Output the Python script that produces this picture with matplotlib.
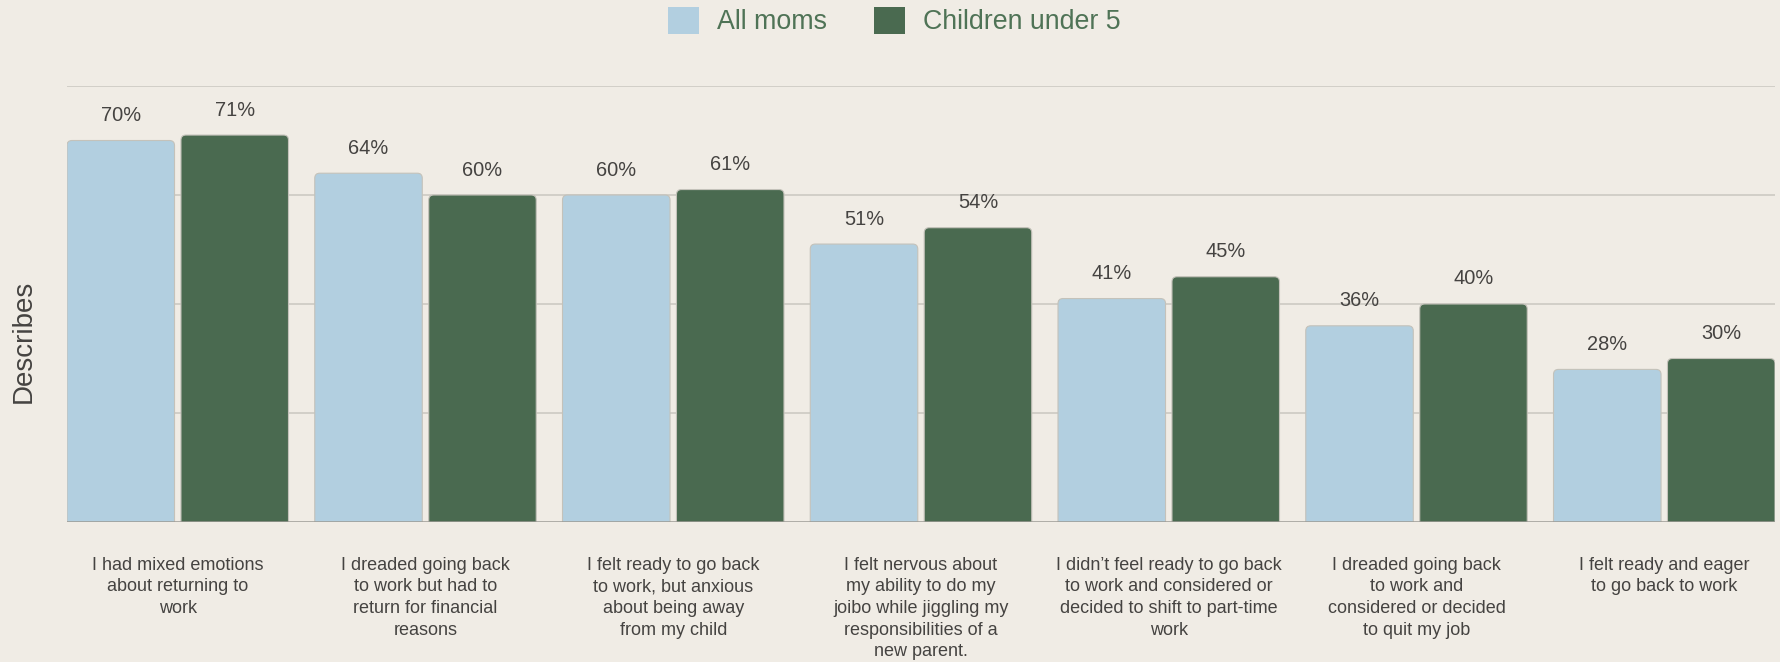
import numpy as np
import matplotlib
matplotlib.use("Agg")
import matplotlib.pyplot as plt
from matplotlib.patches import FancyBboxPatch, Patch

# data
categories = [
    "I had mixed emotions\nabout returning to\nwork",
    "I dreaded going back\nto work but had to\nreturn for financial\nreasons",
    "I felt ready to go back\nto work, but anxious\nabout being away\nfrom my child",
    "I felt nervous about\nmy ability to do my\njoibo while jiggling my\nresponsibilities of a\nnew parent.",
    "I didn\u2019t feel ready to go back\nto work and considered or\ndecided to shift to part-time\nwork",
    "I dreaded going back\nto work and\nconsidered or decided\nto quit my job",
    "I felt ready and eager\nto go back to work",
]
all_moms = [70, 64, 60, 51, 41, 36, 28]
under_5 = [71, 60, 61, 54, 45, 40, 30]
series_names = ["All moms", "Children under 5"]

BG = "#f0ece5"
LIGHT = "#b2cfe0"
DARK = "#4a6a50"
TEXT = "#454341"

plt.rcParams['font.family'] = ['Liberation Sans', 'DejaVu Sans']

fig = plt.figure(figsize=(17.81, 6.62), dpi=100, facecolor=BG)
ax = fig.add_axes([67 / 1781, 140 / 662, 1708 / 1781, 436 / 662])
ax.set_facecolor(BG)

x = np.arange(len(categories))
w = 0.434
off = 0.230
ax.set_xlim(-0.447, len(categories) - 1 + 0.447)
ax.set_ylim(0, 80)

bars_a = ax.bar(x - off, all_moms, w, color=LIGHT)
bars_b = ax.bar(x + off, under_5, w, color=DARK)

# swap plain bars for rounded-top ones
fig.canvas.draw()
px_x = ax.transData.transform((1, 0))[0] - ax.transData.transform((0, 0))[0]
px_y = ax.transData.transform((0, 1))[1] - ax.transData.transform((0, 0))[1]
r_px = 5
r = r_px / px_x
aspect = px_x / px_y
for bars, col in [(bars_a, LIGHT), (bars_b, DARK)]:
    for b in bars:
        b.set_visible(False)
        ext = 2 * r * aspect
        p = FancyBboxPatch((b.get_x(), -ext), b.get_width(), b.get_height() + ext,
                           boxstyle=f"round,pad=0,rounding_size={r}",
                           mutation_aspect=aspect, facecolor=col,
                           edgecolor="#c4c2ba", linewidth=0.8, zorder=2)
        ax.add_patch(p)
        ax.annotate(f"{b.get_height():.0f}%", (b.get_x() + b.get_width() / 2, b.get_height()),
                    xytext=(0, 18), textcoords="offset points", ha="center", va="center",
                    fontsize=14.4, color=TEXT)

ax.set_yticks([20, 40, 60, 80])
ax.set_yticklabels([])
ax.tick_params(axis="y", length=0)
ax.grid(axis="y", color="#cdcac3", linewidth=1.2, zorder=0)
ax.set_axisbelow(True)
ax.axhline(0, color="#9c9a94", linewidth=1.8, zorder=3)
for s in ax.spines.values():
    s.set_visible(False)

ax.set_xticks(x)
ax.set_xticklabels(categories, fontsize=13, color=TEXT, linespacing=1.36)
ax.tick_params(axis="x", length=0, pad=25)

fig.text(24 / 1781, 1 - 341 / 662, "Describes", rotation=90, ha="center", va="center",
         fontsize=20, color=TEXT)

handles = [Patch(facecolor=LIGHT, edgecolor="none"), Patch(facecolor=DARK, edgecolor="none")]
fig.legend(handles, series_names, loc="center", bbox_to_anchor=(0.502, 1 - 21 / 662),
           ncol=2, frameon=False, fontsize=19.3, labelcolor="#4f7356",
           handlelength=1.17, handleheight=1.17, handletextpad=0.66, columnspacing=1.75)

fig.savefig("out.png", dpi=100, facecolor=BG)
